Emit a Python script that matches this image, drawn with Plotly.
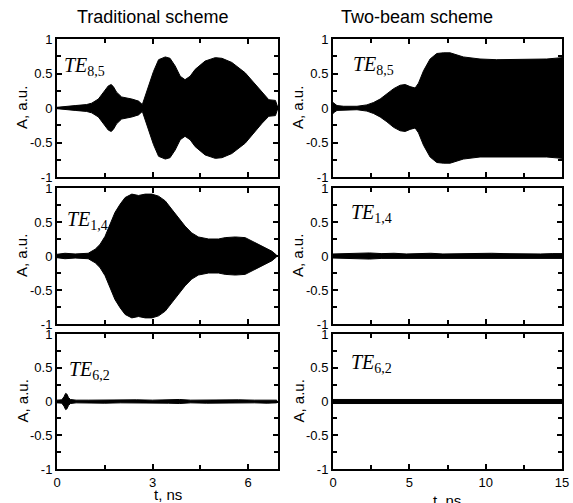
import plotly.graph_objects as go

# ---------------- data (envelope amplitudes) ----------------
# Traditional scheme, TE8,5
t_trad_te85 = [0, 0.25, 0.57, 0.93, 1.09, 1.3, 1.46, 1.61, 1.7, 1.77, 1.87, 2.03, 2.35, 2.56, 2.68,
               2.77, 2.87, 3.03, 3.19, 3.4, 3.55, 3.71, 3.87, 4.02, 4.18, 4.34, 4.65, 4.97, 5.18,
               5.49, 5.91, 6.23, 6.44, 6.65, 6.86, 6.94]
a_trad_te85 = [0.01, 0.025, 0.035, 0.05, 0.07, 0.13, 0.23, 0.32, 0.34, 0.31, 0.23, 0.16, 0.13, 0.1, 0.05,
               0.17, 0.32, 0.53, 0.70, 0.74, 0.72, 0.61, 0.46, 0.41, 0.46, 0.56, 0.68, 0.73, 0.72,
               0.66, 0.51, 0.34, 0.22, 0.12, 0.11, 0.0]

# Traditional scheme, TE1,4
t_trad_te14 = [0, 0.25, 0.57, 0.98, 1.2, 1.35, 1.51, 1.67, 1.82, 1.98, 2.14, 2.35, 2.56, 2.77, 2.98,
               3.19, 3.4, 3.6, 3.82, 4.02, 4.23, 4.44, 4.76, 5.07, 5.28, 5.6, 5.91, 6.12, 6.33,
               6.54, 6.75, 6.9]
a_trad_te14 = [0.025, 0.04, 0.03, 0.04, 0.1, 0.17, 0.29, 0.47, 0.64, 0.76, 0.86, 0.91, 0.89, 0.91, 0.91,
               0.88, 0.81, 0.69, 0.56, 0.44, 0.34, 0.28, 0.25, 0.25, 0.27, 0.28, 0.27, 0.22, 0.16,
               0.12, 0.07, 0.01]

# Traditional scheme, TE6,2
t_trad_te62 = [0, 0.15, 0.22, 0.27, 0.31, 0.36, 0.42, 0.6, 1.0, 1.5, 2.0, 2.5, 3.0, 3.5, 3.85, 4.2,
               4.7, 5.2, 5.7, 6.2, 6.6, 6.9]
a_trad_te62 = [0.02, 0.025, 0.07, 0.12, 0.11, 0.06, 0.03, 0.02, 0.02, 0.025, 0.02, 0.025, 0.02, 0.025,
               0.03, 0.02, 0.025, 0.02, 0.025, 0.02, 0.025, 0.02]

# Two-beam scheme, TE8,5
t_two_te85 = [0, 0.1, 0.26, 0.7, 1.57, 2.22, 2.66, 3.09, 3.53, 3.97, 4.4, 4.73, 5.05, 5.38, 5.6, 5.93,
              6.36, 6.8, 7.23, 7.67, 8.54, 9.63, 10.72, 11.8, 12.9, 14.0, 15.0]
a_two_te85 = [0.08, 0.06, 0.035, 0.025, 0.025, 0.045, 0.08, 0.13, 0.2, 0.28, 0.33, 0.34, 0.31, 0.29,
              0.36, 0.54, 0.71, 0.79, 0.80, 0.80, 0.74, 0.71, 0.70, 0.70, 0.71, 0.71, 0.73]

# Two-beam scheme, TE1,4
t_two_te14 = [0, 0.8, 1.6, 2.4, 3.2, 4.0, 4.8, 5.6, 6.4, 7.2, 8.0, 8.8, 9.6, 10.4, 11.2, 12.0,
              12.8, 13.6, 14.4, 15.0]
a_two_te14 = [0.03, 0.035, 0.04, 0.045, 0.035, 0.04, 0.03, 0.035, 0.04, 0.03, 0.035, 0.04, 0.035,
              0.04, 0.035, 0.03, 0.035, 0.03, 0.035, 0.035]

# Two-beam scheme, TE6,2
t_two_te62 = [0, 3.0, 6.0, 9.0, 12.0, 15.0]
a_two_te62 = [0.03, 0.03, 0.03, 0.03, 0.03, 0.03]

labels = ["8,5", "8,5", "1,4", "1,4", "6,2", "6,2"]
column_titles = ["Traditional scheme", "Two-beam scheme"]
x_ranges = [[0, 6.94], [0, 15]]
x_dticks = [3, 5]
x_minor_dticks = [1.5, 2.5]
y_tick_vals = [-1, -0.5, 0, 0.5, 1]
y_tick_text = ["-1", "-0.5", "0", "0.5", "1"]

# order: row-major (row1: trad, two; row2: trad, two; row3: trad, two)
series = [
    (t_trad_te85, a_trad_te85), (t_two_te85, a_two_te85),
    (t_trad_te14, a_trad_te14), (t_two_te14, a_two_te14),
    (t_trad_te62, a_trad_te62), (t_two_te62, a_two_te62),
]

W, H = 573, 503
x_dom_px = [(57, 278), (333, 562)]
y_dom_px = [(39, 177), (188, 324), (334, 469)]
label_pos = [(0.022, 0.80), (0.08, 0.81), (0.038, 0.76), (0.068, 0.81), (0.045, 0.73), (0.068, 0.78)]

fig = go.Figure()
layout = {}
annotations = []
font_sans = "Liberation Sans, Arial, sans-serif"
font_serif = "Liberation Serif, Times New Roman, serif"

for i, (t, a) in enumerate(series, start=1):
    row = (i - 1) // 2
    col = (i - 1) % 2
    xs = list(t) + list(t[::-1])
    ys = list(a) + [-v for v in a[::-1]]
    xa = "x" if i == 1 else f"x{i}"
    ya = "y" if i == 1 else f"y{i}"
    fig.add_trace(go.Scatter(
        x=xs, y=ys, xaxis=xa, yaxis=ya, mode="lines", fill="toself",
        fillcolor="black", line=dict(color="black", width=1),
        hoverinfo="skip", showlegend=False))

    x0, x1 = x_dom_px[col]
    ytop, ybot = y_dom_px[row]
    common = dict(showline=True, linecolor="black", linewidth=2, mirror="ticks",
                  ticks="inside", ticklen=5, tickwidth=1.5, tickcolor="black",
                  showgrid=False, zeroline=False, automargin=False,
                  tickfont=dict(family=font_sans, size=13, color="black"))
    layout["xaxis" if i == 1 else f"xaxis{i}"] = dict(
        common, domain=[x0 / W, x1 / W], range=x_ranges[col], anchor=ya,
        dtick=x_dticks[col], tick0=0, showticklabels=(row == 2),
        minor=dict(ticks="inside", ticklen=4, tickwidth=1.5, tickcolor="black",
                   dtick=x_minor_dticks[col], tick0=0))
    layout["yaxis" if i == 1 else f"yaxis{i}"] = dict(
        common, domain=[1 - ybot / H, 1 - ytop / H], range=[-1, 1], anchor=xa,
        tickvals=y_tick_vals, ticktext=y_tick_text,
        minor=dict(ticks="inside", ticklen=4, tickwidth=1.5, tickcolor="black",
                   dtick=0.25, tick0=0))

    lx, ly = label_pos[i - 1]
    annotations.append(dict(
        text=f"<i>TE</i><sub>{labels[i - 1]}</sub>", xref=f"{xa} domain", yref=f"{ya} domain",
        x=lx, y=ly, xanchor="left", yanchor="middle", showarrow=False,
        font=dict(family=font_serif, size=20, color="black")))

    # y axis title
    yc = 1 - (ytop + ybot) / 2 / H
    annotations.append(dict(
        text="A, a.u.", xref="paper", yref="paper", x=(22 if col == 0 else 298) / W, y=yc,
        xanchor="center", yanchor="middle", textangle=-90, showarrow=False,
        font=dict(family=font_sans, size=15, color="black")))

# column titles
for col, (cx, title) in enumerate(zip([152, 417], column_titles)):
    annotations.append(dict(
        text=title, xref="paper", yref="paper", x=cx / W, y=1 - 17 / H,
        xanchor="center", yanchor="middle", showarrow=False,
        font=dict(family=font_sans, size=18, color="black")))

# x axis titles
for cx, cy in [(168, 494), (447, 500)]:
    annotations.append(dict(
        text="t, ns", xref="paper", yref="paper", x=cx / W, y=1 - cy / H,
        xanchor="center", yanchor="middle", showarrow=False,
        font=dict(family=font_sans, size=15, color="black")))

fig.update_layout(**layout)
fig.update_layout(
    width=W, height=H, margin=dict(l=0, r=0, t=0, b=0, autoexpand=False),
    paper_bgcolor="white", plot_bgcolor="white",
    annotations=annotations, showlegend=False)

fig.write_html("out.html", config={"displayModeBar": False},
               post_script="document.body.style.margin='0px';")
